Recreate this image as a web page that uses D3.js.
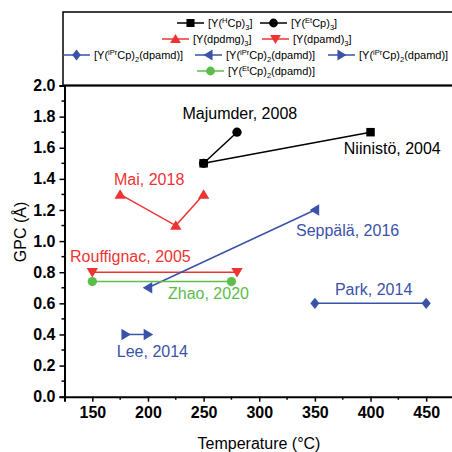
<!DOCTYPE html>
<html>
<head>
<meta charset="utf-8">
<title>GPC vs temperature</title>
<script src="https://cdn.jsdelivr.net/npm/d3@7"></script>
<style>
  body { margin: 0; background: #fff; }
  svg { display: block; font-family: "Liberation Sans", Arial, sans-serif; }
</style>
</head>
<body>
<svg id="chart" width="452" height="452"></svg>
<script>
// series, in legend order
var seriesKeys = ["HCp", "EtCp", "dpdmg", "dpamd", "iPrDia", "iPrLeft", "iPrRight", "EtCp2"];
var seriesTemp = [[250, 400], [250, 280], [175, 225, 250], [150, 280], [350, 450], [200, 350], [180, 200], [150, 275]];
var seriesGPC = [[1.5, 1.7], [1.5, 1.7], [1.3, 1.1, 1.3], [0.8, 0.8], [0.6, 0.6], [0.7, 1.2], [0.4, 0.4], [0.74, 0.74]];
var seriesColor = ["#000000", "#000000", "#ee3333", "#ee3333", "#3a52a8", "#3a52a8", "#3a52a8", "#5cbd4a"];
var seriesSymbol = ["square", "circle", "up", "down", "diamond", "left", "right", "circle"];

// legend labels as pieces: [text, "", "sup" or "sub"]
var legendParts = [
  [["[Y(", ""], ["H", "sup"], ["Cp)", ""], ["3", "sub"], ["]", ""]],
  [["[Y(", ""], ["Et", "sup"], ["Cp)", ""], ["3", "sub"], ["]", ""]],
  [["[Y(dpdmg)", ""], ["3", "sub"], ["]", ""]],
  [["[Y(dpamd)", ""], ["3", "sub"], ["]", ""]],
  [["[Y(", ""], ["iPr", "sup"], ["Cp)", ""], ["2", "sub"], ["(dpamd)]", ""]],
  [["[Y(", ""], ["iPr", "sup"], ["Cp)", ""], ["2", "sub"], ["(dpamd)]", ""]],
  [["[Y(", ""], ["iPr", "sup"], ["Cp)", ""], ["2", "sub"], ["(dpamd)]", ""]],
  [["[Y(", ""], ["Et", "sup"], ["Cp)", ""], ["2", "sub"], ["(dpamd)]", ""]]
];

// annotations: label, series index, anchor temperature, anchor GPC
var noteText = ["Niinistö, 2004", "Majumder, 2008", "Mai, 2018", "Rouffignac, 2005", "Park, 2014", "Seppälä, 2016", "Lee, 2014", "Zhao, 2020"];
var noteSeries = [0, 1, 2, 3, 4, 5, 6, 7];
var noteTemp = [376, 231, 169.5, 130, 368, 333, 172, 218];
var noteGPC = [1.597, 1.822, 1.398, 0.899, 0.692, 1.066, 0.289, 0.666];

var xTicks = [150, 200, 250, 300, 350, 400, 450];
var yTicks = [0.0, 0.2, 0.4, 0.6, 0.8, 1.0, 1.2, 1.4, 1.6, 1.8, 2.0];

var svg = d3.select("#chart");
var plotL = 64.5, plotR = 454, plotT = 85.5, plotB = 396.7;

var x = d3.scaleLinear().domain([125, 475]).range([plotL, plotR]);
var y = d3.scaleLinear().domain([0, 2]).range([plotB, plotT]);

function symbolPath(kind, s) {
  switch (kind) {
    case "square": return d3.symbol().type(d3.symbolSquare).size(s * s * 0.8)();
    case "circle": return d3.symbol().type(d3.symbolCircle).size(s * s * 0.75)();
    case "diamond": return "M0," + (-s * 0.6) + "L" + (s * 0.48) + ",0L0," + (s * 0.6) + "L" + (-s * 0.48) + ",0Z";
    case "up": return "M0," + (-s * 0.55) + "L" + (s * 0.6) + "," + (s * 0.45) + "L" + (-s * 0.6) + "," + (s * 0.45) + "Z";
    case "down": return "M0," + (s * 0.55) + "L" + (s * 0.6) + "," + (-s * 0.45) + "L" + (-s * 0.6) + "," + (-s * 0.45) + "Z";
    case "left": return "M" + (-s * 0.55) + ",0L" + (s * 0.45) + "," + (-s * 0.6) + "L" + (s * 0.45) + "," + (s * 0.6) + "Z";
    case "right": return "M" + (s * 0.55) + ",0L" + (-s * 0.45) + "," + (-s * 0.6) + "L" + (-s * 0.45) + "," + (s * 0.6) + "Z";
  }
}

// legend box
svg.append("rect")
  .attr("x", 63).attr("y", 12)
  .attr("width", 420).attr("height", plotT - 12)
  .attr("fill", "none").attr("stroke", "#000").attr("stroke-width", 1.5);

// legend rows: which series sit on which row, line start x per item
var legendRows = [[0, 1], [2, 3], [4, 5, 6], [7]];
var legendRowY = [23, 39, 55, 71];
var legendLineX = [[177, 260], [162, 262], [63, 195, 328], [197]];

legendRows.forEach(function(row, r) {
  row.forEach(function(si, k) {
    var lx = legendLineX[r][k];
    var ly = legendRowY[r];
    var g = svg.append("g");
    g.append("line")
      .attr("x1", lx).attr("x2", lx + 27)
      .attr("y1", ly).attr("y2", ly)
      .attr("stroke", seriesColor[si]).attr("stroke-width", 1.5);
    g.append("path")
      .attr("d", symbolPath(seriesSymbol[si], 9))
      .attr("transform", "translate(" + (lx + 13.5) + "," + ly + ")")
      .attr("fill", seriesColor[si]);
    var t = g.append("text")
      .attr("x", lx + 31).attr("y", ly + 4)
      .attr("font-size", 11).attr("fill", "#000");
    var prev = 0;
    legendParts[si].forEach(function(p) {
      var ts = t.append("tspan").text(p[0]);
      var want = p[1] == "sup" ? -4.5 : (p[1] == "sub" ? 2.5 : 0);
      if (p[1] != "") ts.attr("font-size", 7.5);
      ts.attr("dy", want - prev);
      prev = want;
    });
  });
});

// axes
var xAxis = svg.append("g").attr("transform", "translate(0," + plotB + ")");
xAxis.call(d3.axisBottom(x).tickValues(xTicks).tickSize(5).tickPadding(5).tickFormat(d3.format("d")));
xAxis.append("g").selectAll("line").data(d3.range(175, 475, 50)).join("line")
  .attr("x1", function(d) { return x(d); }).attr("x2", function(d) { return x(d); })
  .attr("y1", 0).attr("y2", 3).attr("stroke", "#000").attr("stroke-width", 1.5);

var yAxis = svg.append("g").attr("transform", "translate(" + plotL + ",0)");
yAxis.call(d3.axisLeft(y).tickValues(yTicks).tickSize(5).tickPadding(4).tickFormat(d3.format(".1f")));
yAxis.append("g").selectAll("line").data(d3.range(0.1, 2, 0.2)).join("line")
  .attr("y1", function(d) { return y(d); }).attr("y2", function(d) { return y(d); })
  .attr("x1", 0).attr("x2", -3).attr("stroke", "#000").attr("stroke-width", 1.5);

[xAxis, yAxis].forEach(function(a) {
  a.select(".domain").attr("stroke-width", 2);
  a.selectAll(".tick line").attr("stroke-width", 1.5);
  a.selectAll(".tick text").attr("font-size", 16).attr("font-weight", "bold")
    .attr("font-family", "'Liberation Sans', Arial, sans-serif").attr("fill", "#000");
});

// top frame line at 2.0
svg.append("line")
  .attr("x1", plotL - 1).attr("x2", 452)
  .attr("y1", plotT).attr("y2", plotT)
  .attr("stroke", "#000").attr("stroke-width", 2);

// axis titles
svg.append("text")
  .attr("x", 259).attr("y", 449)
  .attr("text-anchor", "middle").attr("font-size", 16)
  .text("Temperature (°C)");
svg.append("text")
  .attr("transform", "translate(26,232) rotate(-90)")
  .attr("text-anchor", "middle").attr("font-size", 16)
  .text("GPC (Å)");

// series lines and markers
seriesKeys.forEach(function(key, si) {
  var pts = seriesTemp[si].map(function(t, i) { return [t, seriesGPC[si][i]]; });
  svg.append("path")
    .attr("d", d3.line().x(function(d) { return x(d[0]); }).y(function(d) { return y(d[1]); })(pts))
    .attr("fill", "none").attr("stroke", seriesColor[si]).attr("stroke-width", 1.5);
  svg.append("g").selectAll("path").data(pts).join("path")
    .attr("d", symbolPath(seriesSymbol[si], 9.5))
    .attr("transform", function(d) { return "translate(" + x(d[0]) + "," + y(d[1]) + ")"; })
    .attr("fill", seriesColor[si]);
});

// annotations
noteText.forEach(function(txt, i) {
  svg.append("text")
    .attr("x", x(noteTemp[i])).attr("y", y(noteGPC[i]))
    .attr("dy", "0.35em")
    .attr("font-size", 16)
    .attr("fill", seriesColor[noteSeries[i]])
    .text(txt);
});
</script>
</body>
</html>
